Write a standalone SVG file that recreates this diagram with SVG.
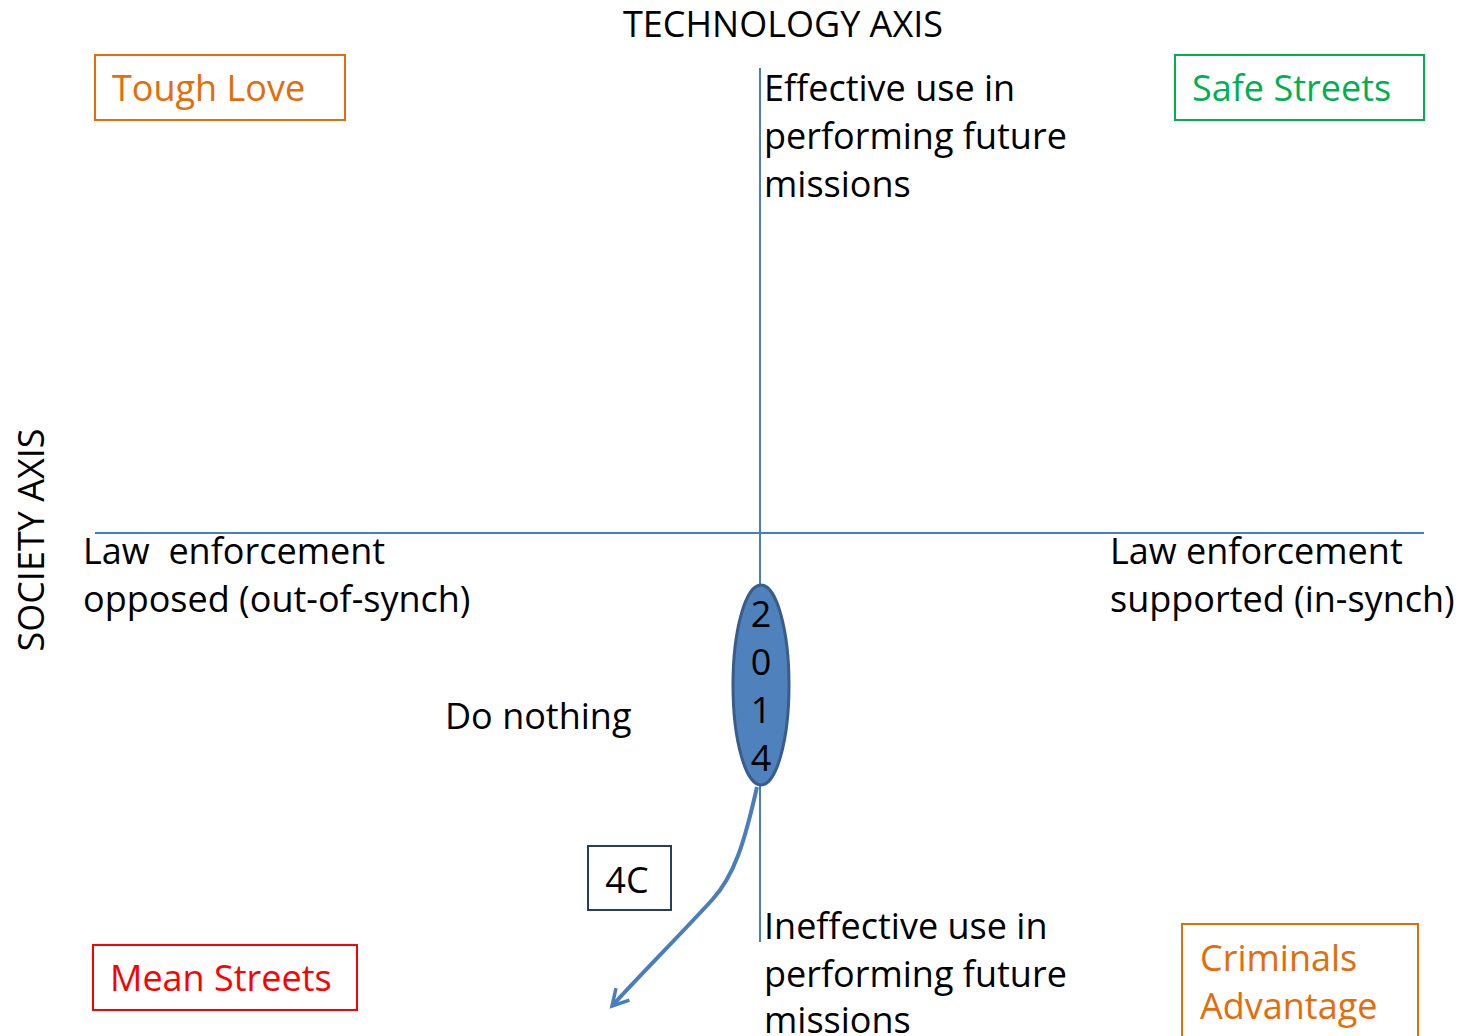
<svg xmlns="http://www.w3.org/2000/svg" width="1472" height="1036" viewBox="0 0 1472 1036">
<style>
text{font-family:"Open Sans","Noto Sans","Liberation Sans",sans-serif;font-size:36px;fill:#000}
.axis{stroke:#4a7ebb;stroke-width:2;fill:none}
.box{fill:#fff;stroke-width:2}
.or{fill:#e46c0a}
.gr{fill:#00b050}
.rd{fill:#ff0000}
</style>
<defs>
<marker id="arr" markerWidth="24" markerHeight="24" refX="20" refY="12" orient="auto" markerUnits="userSpaceOnUse" viewBox="0 0 24 24">
<path d="M4,3 L20,12 L4,21" fill="none" stroke="#4a7ebb" stroke-width="3.5"/>
</marker>
</defs>
<text x="783" y="37" text-anchor="middle">TECHNOLOGY AXIS</text>
<text transform="translate(44,540) rotate(-90)" text-anchor="middle">SOCIETY AXIS</text>
<g id="connectors">
<line class="axis" x1="760" y1="68" x2="760" y2="585"/>
<line class="axis" x1="760" y1="785" x2="760" y2="942"/>
<line class="axis" x1="95" y1="533" x2="1424" y2="533"/>
<path d="M757,787 C745,840 735,875 712,900 C680,935 640,975 612,1006" fill="none" stroke="#4a7ebb" stroke-width="4" marker-end="url(#arr)"/>
</g>
<g id="tough-love">
<rect class="box" x="95" y="55" width="250" height="65" stroke="#e46c0a"/>
<text class="or" x="112" y="101">Tough Love</text>
</g>
<g id="safe-streets">
<rect class="box" x="1175" y="55" width="249" height="65" stroke="#00b050"/>
<text class="gr" x="1192" y="101">Safe Streets</text>
</g>
<g id="mean-streets">
<rect class="box" x="93" y="945" width="264" height="65" stroke="#ff0000"/>
<text class="rd" x="110" y="991">Mean Streets</text>
</g>
<g id="criminals-advantage">
<rect class="box" x="1182" y="924" width="236" height="130" stroke="#e46c0a"/>
<text class="or" x="1200" y="971">Criminals</text>
<text class="or" x="1200" y="1019">Advantage</text>
</g>
<g id="effective">
<text x="764" y="101">Effective use in</text>
<text x="764" y="149">performing future</text>
<text x="764" y="197">missions</text>
</g>
<g id="ineffective">
<text x="764" y="939">Ineffective use in</text>
<text x="764" y="987">performing future</text>
<text x="764" y="1033">missions</text>
</g>
<g id="opposed">
<text x="83" y="564" xml:space="preserve">Law  enforcement</text>
<text x="83" y="612">opposed (out-of-synch)</text>
</g>
<g id="supported">
<text x="1110" y="564">Law enforcement</text>
<text x="1110" y="612">supported (in-synch)</text>
</g>
<g id="do-nothing">
<text x="445" y="729">Do nothing</text>
</g>
<g id="year-2014">
<ellipse cx="761" cy="685" rx="28" ry="100" fill="#4f81bd" stroke="#385d8a" stroke-width="3"/>
<text x="761" y="627" text-anchor="middle">2</text>
<text x="761" y="675" text-anchor="middle">0</text>
<text x="761" y="723" text-anchor="middle">1</text>
<text x="761" y="771" text-anchor="middle">4</text>
</g>
<g id="box-4c">
<rect class="box" x="588" y="846" width="83" height="64" stroke="#243f60"/>
<text x="627" y="893" text-anchor="middle">4C</text>
</g>
</svg>
